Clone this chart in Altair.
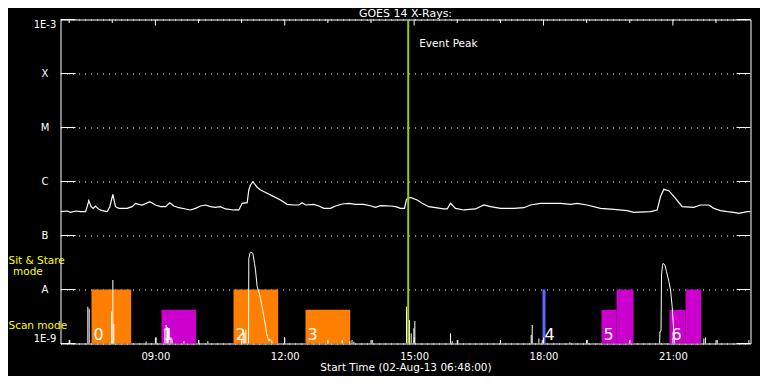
import altair as alt
import pandas as pd

# ---------------- data ----------------
# GOES 14 long channel (1-8 A), hours after 00:00 on 02-Aug-2013 and flux (W/m^2)
long_hours = [6.800, 6.955, 7.032, 7.148, 7.264, 7.380, 7.418, 7.457, 7.511, 7.557,
              7.612, 7.689, 7.766, 7.882, 7.944, 8.014, 8.075, 8.153, 8.346, 8.462,
              8.539, 8.616, 8.694, 8.871, 9.003, 9.119, 9.235, 9.335, 9.428, 9.544,
              9.699, 9.814, 9.930, 10.046, 10.162, 10.278, 10.394, 10.510, 10.626, 10.819,
              10.935, 11.013, 11.129, 11.167, 11.206, 11.260, 11.360, 11.438, 11.592, 11.747,
              11.901, 12.056, 12.211, 12.327, 12.404, 12.481, 12.674, 12.790, 12.906, 13.061,
              13.177, 13.332, 13.486, 13.641, 13.834, 13.988, 14.104, 14.220, 14.452, 14.568,
              14.684, 14.777, 14.823, 14.916, 15.070, 15.186, 15.341, 15.689, 15.766, 15.843,
              15.959, 16.152, 16.423, 16.616, 16.771, 17.003, 17.312, 17.544, 17.698, 17.930,
              18.394, 18.626, 18.780, 19.012, 19.321, 19.631, 19.940, 20.094, 20.481, 20.635,
              20.713, 20.790, 20.906, 21.061, 21.215, 21.486, 21.640, 21.834, 21.950, 22.104,
              22.259, 22.414, 22.529, 22.723, 22.800]
long_flux = [2.76e-7, 2.84e-7, 2.69e-7, 2.84e-7, 2.76e-7, 2.76e-7, 3.42e-7, 4.42e-7, 3.42e-7, 3.18e-7,
             3.52e-7, 3.05e-7, 2.89e-7, 2.76e-7, 3.42e-7, 5.78e-7, 3.42e-7, 3.18e-7, 3.18e-7, 3.42e-7,
             3.94e-7, 3.78e-7, 3.67e-7, 4.23e-7, 3.67e-7, 3.42e-7, 3.42e-7, 4.05e-7, 3.52e-7, 3.27e-7,
             3.10e-7, 2.97e-7, 3.18e-7, 3.52e-7, 3.67e-7, 3.42e-7, 3.33e-7, 3.42e-7, 3.10e-7, 2.97e-7,
             2.97e-7, 3.94e-7, 4.05e-7, 6.96e-7, 8.61e-7, 9.93e-7, 7.80e-7, 6.96e-7, 6.04e-7, 5.24e-7,
             4.54e-7, 3.78e-7, 3.67e-7, 3.67e-7, 4.05e-7, 3.67e-7, 3.78e-7, 3.52e-7, 3.18e-7, 3.18e-7,
             3.52e-7, 3.83e-7, 3.94e-7, 3.78e-7, 3.78e-7, 3.56e-7, 3.33e-7, 3.56e-7, 3.52e-7, 3.42e-7,
             3.18e-7, 3.18e-7, 4.68e-7, 5.09e-7, 4.54e-7, 3.94e-7, 3.42e-7, 3.10e-7, 3.10e-7, 3.94e-7,
             3.18e-7, 2.97e-7, 3.10e-7, 3.67e-7, 3.42e-7, 3.18e-7, 3.18e-7, 3.27e-7, 3.67e-7, 3.94e-7,
             3.94e-7, 3.78e-7, 3.94e-7, 3.67e-7, 3.18e-7, 3.05e-7, 2.89e-7, 2.69e-7, 2.76e-7, 2.97e-7,
             5.24e-7, 7.16e-7, 6.76e-7, 4.88e-7, 3.42e-7, 3.33e-7, 3.67e-7, 3.67e-7, 3.18e-7, 2.89e-7,
             2.76e-7, 2.69e-7, 2.57e-7, 2.76e-7, 2.76e-7]

# short channel (0.5-4 A): isolated spikes above 1E-9
spike_hours = [7.016, 7.434, 7.465, 7.983, 8.014, 8.037, 8.786, 9.018, 9.219, 9.250,
               9.280, 9.310, 9.360, 9.390, 9.660, 10.008, 10.216, 11.036, 11.060, 11.098,
               11.994, 12.999, 13.331, 13.509, 13.560, 13.602, 14.028, 14.824, 14.893, 14.932,
               14.994, 15.017, 15.844, 15.883, 16.014, 17.003, 17.715, 17.738, 17.893, 17.970,
               18.611, 19.013, 20.002, 21.718, 21.757, 22.028, 22.762]
spike_flux = [1.16e-9, 4.8e-9, 4.4e-9, 3.9e-9, 1.5e-8, 2.3e-9, 1.08e-9, 1.30e-9, 1.9e-9, 2.2e-9,
              2.0e-9, 1.6e-9, 1.3e-9, 1.16e-9, 1.11e-9, 1.16e-9, 1.11e-9, 1.8e-9, 1.6e-9, 1.8e-9,
              1.30e-9, 1.16e-9, 1.16e-9, 1.11e-9, 1.16e-9, 1.08e-9, 1.16e-9, 4.81e-9, 2.72e-9, 1.54e-9,
              1.91e-9, 2.6e-9, 1.54e-9, 1.11e-9, 1.16e-9, 1.16e-9, 1.44e-9, 2.2e-9, 1.24e-9, 1.16e-9,
              1.05e-9, 1.16e-9, 1.16e-9, 1.24e-9, 1.30e-9, 1.16e-9, 1.16e-9]

# short channel flare humps
hump1_hours = [11.160, 11.167, 11.190, 11.206, 11.240, 11.260, 11.300, 11.322, 11.360, 11.400,
               11.438, 11.480, 11.515, 11.550, 11.577, 11.631, 11.650, 11.700, 11.720]
hump1_flux = [8e-10, 3.78e-8, 4.6e-8, 4.88e-8, 4.8e-8, 4.67e-8, 3.0e-8, 2.3e-8, 1.13e-8, 9e-9,
              6.86e-9, 4.5e-9, 3.14e-9, 2.2e-9, 1.54e-9, 1.11e-9, 1.2e-9, 1.1e-9, 8e-10]
hump2_hours = [20.690, 20.700, 20.725, 20.737, 20.760, 20.776, 20.814, 20.853, 20.907, 20.946,
               20.984, 21.023, 21.046]
hump2_flux = [8e-10, 1.66e-9, 1.7e-9, 1.86e-8, 2.8e-8, 3.05e-8, 2.84e-8, 2.14e-8, 1.40e-8, 9.8e-9,
              4.81e-9, 1.66e-9, 8e-10]

# observation blocks
block_start = [7.519, 9.142, 10.812, 12.481, 17.977, 19.345, 19.693, 20.922, 21.293]
block_end = [8.439, 9.947, 11.848, 13.518, 18.046, 19.693, 20.087, 21.293, 21.657]
block_top = [1e-8, 4.2e-9, 1e-8, 4.2e-9, 1e-8, 4.2e-9, 1e-8, 4.2e-9, 1e-8]
block_color = ["#FF8000", "#CC00CC", "#FF8000", "#FF8000", "#6464FF",
               "#CC00CC", "#CC00CC", "#CC00CC", "#CC00CC"]
label_hours = [7.519, 9.142, 10.812, 12.481, 17.977, 19.345, 20.922]
label_text = ["0", "1", "2", "3", "4", "5", "6"]

event_peak_hour = 14.863
level_values = [1e-9, 1e-8, 1e-7, 1e-6, 1e-5, 1e-4, 1e-3]
tick_hours = list(range(7, 23))
major_hours = [9, 12, 15, 18, 21]
floor_flux = 1e-9

# ---------------- build tables ----------------
BASE = pd.Timestamp("2013-08-02")


def to_time(hours):
    return [(BASE + pd.Timedelta(hours=h)).round("s") for h in hours]


long_df = pd.DataFrame({"t": to_time(long_hours), "flux": long_flux})
spike_df = pd.DataFrame({"t": to_time(spike_hours), "flux": spike_flux,
                         "floor": [floor_flux] * len(spike_hours)})
hump_df = pd.DataFrame({"t": to_time(hump1_hours + hump2_hours),
                        "flux": hump1_flux + hump2_flux,
                        "seg": ["a"] * len(hump1_hours) + ["b"] * len(hump2_hours)})
block_df = pd.DataFrame({"t": to_time(block_start), "t1": to_time(block_end),
                         "flux": block_top, "floor": [floor_flux] * len(block_top),
                         "c": block_color})
label_df = pd.DataFrame({"t": to_time(label_hours), "flux": [floor_flux] * len(label_hours),
                         "s": label_text})
peak_df = pd.DataFrame({"t": to_time([event_peak_hour]), "s": ["Event Peak"]})
lvl_df = pd.DataFrame({"flux": level_values})
minor_df = pd.DataFrame({"t": to_time([h for h in tick_hours if h not in major_hours])})
major_df = pd.DataFrame({"t": to_time(major_hours)})

FONT = "DejaVu Sans"
W, H = 690, 324

xscale = alt.Scale(domain=[alt.DateTime(year=2013, month=8, date=2, hours=6, minutes=48),
                           alt.DateTime(year=2013, month=8, date=2, hours=22, minutes=48)])
xaxis = alt.Axis(values=[alt.DateTime(year=2013, month=8, date=2, hours=h) for h in major_hours],
                 format="%H:%M", labelColor="white", labelFont=FONT, labelFontSize=10,
                 labelPadding=8, ticks=False, tickSize=0, domain=False, grid=False,
                 labelFlush=False,
                 title="Start Time (02-Aug-13 06:48:00)", titleColor="white", titleFont=FONT,
                 titleFontSize=10.5, titleFontWeight="normal", titlePadding=1)
yscale = alt.Scale(type="log", domain=[1e-9, 1e-3], nice=False)
yaxis = alt.Axis(values=level_values,
                 labelExpr="['1E-9','A','B','C','M','X','1E-3'][round(log(datum.value)/LN10)+9]",
                 labelAlign="center", labelPadding=16, labelFlush=True,
                 labelColor="white", labelFont=FONT, labelFontSize=10,
                 ticks=False, tickSize=0, domain=False, title=None,
                 grid=True, gridColor="white", gridDash=[1, 5], gridWidth=1, gridOpacity=1)


def X(field="t"):
    return alt.X(f"{field}:T", scale=xscale, axis=xaxis)


def Y(field="flux"):
    return alt.Y(f"{field}:Q", scale=yscale, axis=yaxis)


blocks = alt.Chart(block_df).mark_rect().encode(
    x=X(), x2="t1:T", y=Y(), y2="floor:Q", color=alt.Color("c:N", scale=None))

spikes = alt.Chart(spike_df).mark_rule(color="white", strokeWidth=1).encode(
    x=X(), y=Y(), y2="floor:Q")

humps = alt.Chart(hump_df).mark_line(color="white", strokeWidth=1, clip=True).encode(
    x=X(), y=Y(), detail="seg:N")

long_line = alt.Chart(long_df).mark_line(color="white", strokeWidth=1.2, clip=True).encode(
    x=X(), y=Y())

labels = alt.Chart(label_df).mark_text(color="white", font=FONT, fontSize=16, align="left",
                                       baseline="alphabetic", dx=2, dy=-4).encode(
    x=X(), y=Y(), text="s:N")

peak_rule = alt.Chart(peak_df).mark_rule(color="#99CC00", strokeWidth=2).encode(x=X())
peak_text = alt.Chart(peak_df).mark_text(color="white", font=FONT, fontSize=10.5, align="left",
                                         baseline="alphabetic", dx=11).encode(
    x=X(), y=alt.value(27), text="s:N")

ytick_left = alt.Chart(lvl_df).mark_rule(color="white").encode(
    y=Y(), x=alt.value(0), x2=alt.value(15))
ytick_right = alt.Chart(lvl_df).mark_rule(color="white").encode(
    y=Y(), x=alt.value(W - 14), x2=alt.value(W))

minor_top = alt.Chart(minor_df).mark_rule(color="white").encode(
    x=X(), y=alt.value(0), y2=alt.value(3.5))
minor_bot = alt.Chart(minor_df).mark_rule(color="white").encode(
    x=X(), y=alt.value(H - 3.5), y2=alt.value(H))
major_top = alt.Chart(major_df).mark_rule(color="white").encode(
    x=X(), y=alt.value(0), y2=alt.value(6))
major_bot = alt.Chart(major_df).mark_rule(color="white").encode(
    x=X(), y=alt.value(H - 6), y2=alt.value(H))

side_df = pd.DataFrame({"s": ["Sit & Stare", "mode", "Scan mode"],
                        "px": [-52, -47.5, -52], "py": [244, 255.5, 309]})
side_text = alt.Chart(side_df).mark_text(color="#FFFF00", font=FONT, fontSize=10.5,
                                         align="left", baseline="alphabetic").encode(
    x=alt.X("px:Q", scale=None), y=alt.Y("py:Q", scale=None), text="s:N")

title_df = pd.DataFrame({"s": ["GOES 14 X-Rays:"]})
title_text = alt.Chart(title_df).mark_text(color="white", font=FONT, fontSize=11,
                                           align="center", baseline="alphabetic").encode(
    x=alt.value(W / 2), y=alt.value(-3), text="s:N")

chart = alt.layer(
    blocks, spikes, humps, long_line, peak_rule, labels, peak_text,
    ytick_left, ytick_right, minor_top, minor_bot, major_top, major_bot,
    side_text, title_text
).properties(
    width=W, height=H,
    background="black",
    autosize=alt.AutoSizeParams(type="none"),
    padding={"left": 52.5, "top": 11.5, "right": 9.5, "bottom": 32},
).configure_view(
    fill="black", stroke="white", strokeWidth=1
)

chart.save("out.html", embed_options={"renderer": "svg", "actions": False})
